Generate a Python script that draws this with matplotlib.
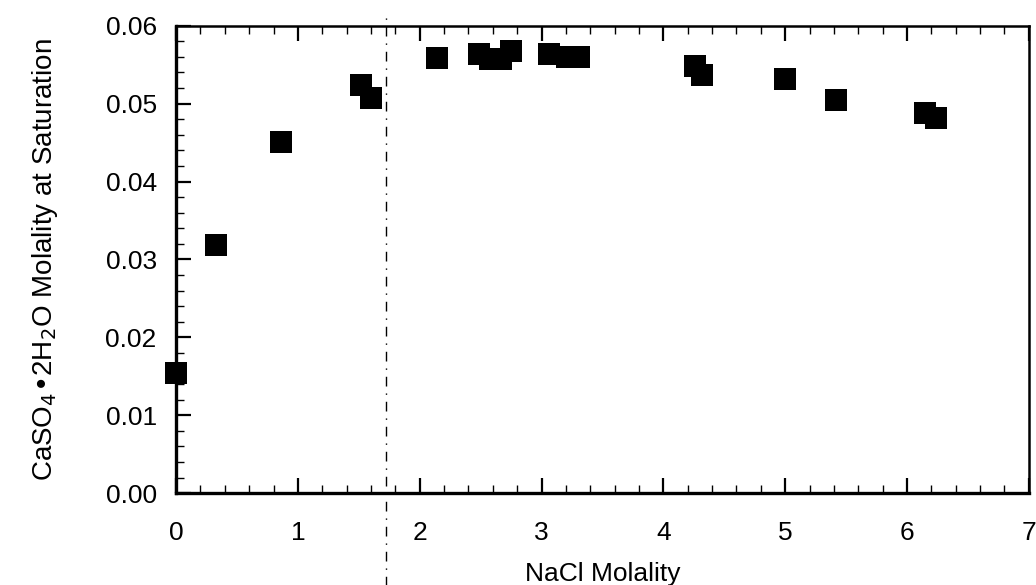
import numpy as np
import matplotlib
matplotlib.use("Agg")
import matplotlib.pyplot as plt
from matplotlib.ticker import MultipleLocator
import matplotlib.transforms as mtransforms

plt.rcParams['font.family'] = ['Liberation Sans', 'DejaVu Sans']

# NaCl molality vs gypsum solubility
nacl = [0.00, 0.33, 0.86, 1.52, 1.60, 2.14, 2.49, 2.58, 2.67, 2.75,
        3.06, 3.21, 3.31, 4.26, 4.32, 5.00, 5.42, 6.15, 6.24]
caso4 = [0.0154, 0.0318, 0.0451, 0.0524, 0.0507, 0.0558, 0.0564, 0.0557,
         0.0557, 0.0567, 0.0564, 0.0560, 0.0560, 0.0548, 0.0537, 0.0532,
         0.0505, 0.0488, 0.0481]
x_marker_line = 1.72

fig = plt.figure(figsize=(10.36, 5.85), dpi=100)
ax = fig.add_axes([0.170, 0.157, 0.823, 0.799])

ax.plot(nacl, caso4, ls='none', marker='s', ms=15.5, color='black',
        markeredgewidth=0, clip_on=False, zorder=5)

# dash-dot vertical line that runs past the frame
trans = mtransforms.blended_transform_factory(ax.transData, ax.transAxes)
ax.plot([x_marker_line, x_marker_line], [-0.2, 1.03], transform=trans,
        color='black', lw=1.0, ls=(0, (7, 5, 1, 5)), clip_on=False)

ax.set_xlim(0, 7)
ax.set_ylim(0, 0.06)
ax.xaxis.set_major_locator(MultipleLocator(1))
ax.xaxis.set_minor_locator(MultipleLocator(0.2))
ax.yaxis.set_major_locator(MultipleLocator(0.01))
ax.yaxis.set_minor_locator(MultipleLocator(0.002))
ax.yaxis.set_major_formatter(matplotlib.ticker.FormatStrFormatter('%.2f'))

ax.tick_params(which='both', direction='in', top=True, right=False,
               labelsize=19, color='black')
ax.tick_params(axis='x', which='major', length=11, width=1.6, pad=20)
ax.tick_params(axis='x', which='minor', length=6, width=1.0)
ax.tick_params(axis='y', which='major', length=11, width=1.6, pad=14)
ax.tick_params(axis='y', which='minor', length=6, width=1.0)

for s in ['left', 'bottom']:
    ax.spines[s].set_linewidth(2.4)
for s in ['top', 'right']:
    ax.spines[s].set_linewidth(1.8)

ax.set_xlabel('NaCl Molality', fontsize=19, labelpad=12)
ax.set_ylabel(r'CaSO$_4$•2H$_2$O Molality at Saturation', fontsize=20,
              labelpad=33)

fig.savefig('out.png', dpi=100)
